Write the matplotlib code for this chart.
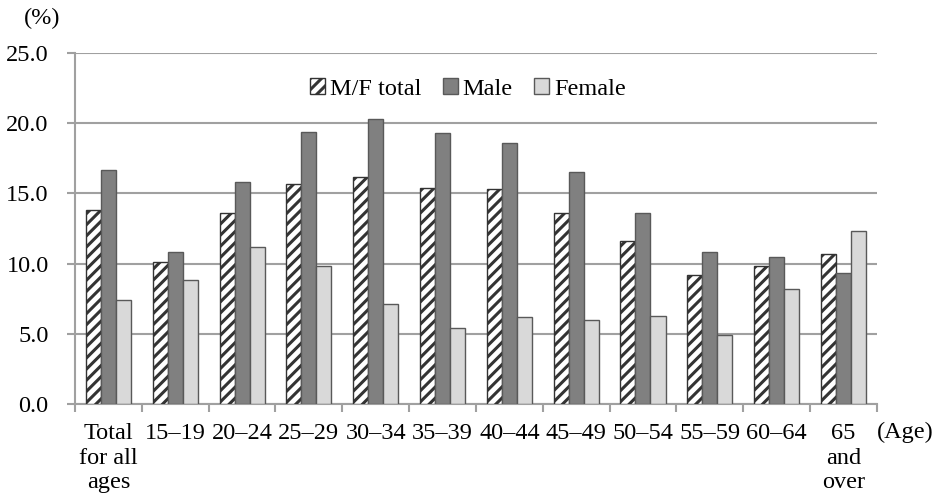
import numpy as np
import matplotlib.pyplot as plt

plt.rcParams['font.family'] = ['Liberation Serif', 'DejaVu Serif']
plt.rcParams['hatch.linewidth'] = 2.2

# Age groups and rates (%)
ages = ['Total\nfor all\nages', '15–19', '20–24', '25–29', '30–34', '35–39',
        '40–44', '45–49', '50–54', '55–59', '60–64', '65\nand\nover']
mf_total = [13.8, 10.1, 13.6, 15.7, 16.2, 15.4, 15.3, 13.6, 11.6, 9.2, 9.8, 10.7]
male = [16.7, 10.8, 15.8, 19.4, 20.3, 19.3, 18.6, 16.5, 13.6, 10.8, 10.5, 9.3]
female = [7.4, 8.8, 11.2, 9.8, 7.1, 5.4, 6.2, 6.0, 6.3, 4.9, 8.2, 12.3]

fs = 17.5
fig = plt.figure(figsize=(9.4, 5.01), dpi=100)
ax = fig.add_axes([0.0798, 0.1936, 0.853, 0.7004])

x = np.arange(len(ages))
w = 0.225
edge = '#595959'
ax.bar(x - w, mf_total, w, color='white', edgecolor='#333333', hatch='///',
       linewidth=1.0, label='M/F total', zorder=3)
ax.bar(x, male, w, color='#808080', edgecolor=edge, linewidth=1.0,
       label='Male', zorder=3)
ax.bar(x + w, female, w, color='#d9d9d9', edgecolor=edge, linewidth=1.0,
       label='Female', zorder=3)

ax.set_ylim(0, 25)
ax.set_xlim(-0.5, len(ages) - 0.5)
ax.set_yticks(np.arange(0, 26, 5))
ax.set_yticklabels([f'{v:.1f}' for v in np.arange(0, 26, 5)])
ax.yaxis.grid(True, color='#a0a0a0', linewidth=1.5, zorder=0)
ax.set_axisbelow(True)

# ticks between the groups, labels centred under them
ax.set_xticks(np.arange(-0.5, len(ages), 1.0))
ax.set_xticklabels([])
ax.set_xticks(x, minor=True)
ax.set_xticklabels(ages, minor=True, fontsize=fs, linespacing=1.22, va='top')
ax.tick_params(axis='x', which='minor', length=0, pad=14)
ax.tick_params(axis='x', which='major', length=6, width=1.5, color='#a0a0a0')
ax.tick_params(axis='y', length=6, width=1.5, color='#a0a0a0', labelsize=fs, pad=13)

for s in ['top', 'right']:
    ax.spines[s].set_visible(False)
for s in ['left', 'bottom']:
    ax.spines[s].set_color('#a0a0a0')
    ax.spines[s].set_linewidth(1.5)

ax.legend(loc='upper center', bbox_to_anchor=(0.49, 0.99), ncol=3, frameon=False,
          fontsize=fs, handlelength=0.6, handleheight=0.6, handletextpad=0.2,
          columnspacing=0.9)

fig.text(0.045, 0.963, '(%)', fontsize=fs, va='center', ha='center')
fig.text(0.963, 0.137, '(Age)', fontsize=fs, va='center', ha='center')

fig.savefig('out.png', dpi=100)
